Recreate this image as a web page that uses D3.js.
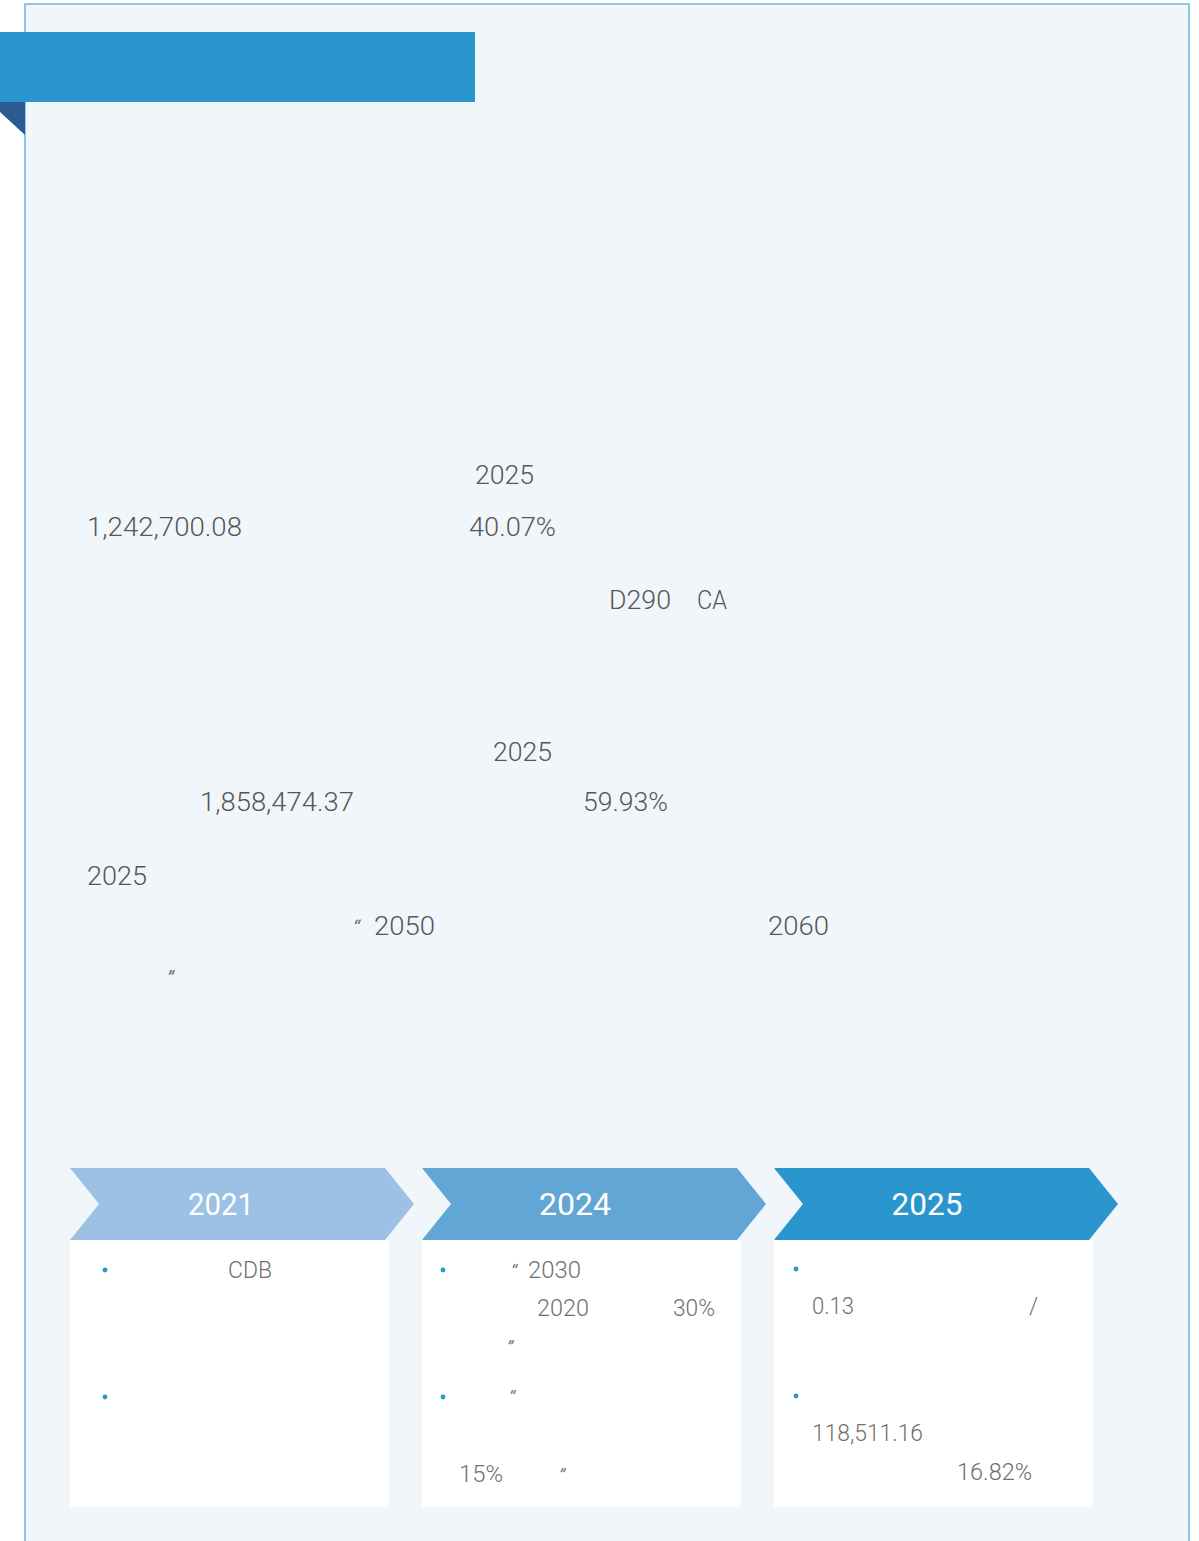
<!DOCTYPE html>
<html>
<head>
<meta charset="utf-8">
<script src="https://cdn.jsdelivr.net/npm/d3@7"></script>
<style>
  html, body { margin: 0; padding: 0; background: #ffffff; }
  svg { display: block; }
</style>
</head>
<body>
<div id="chart"></div>
<script>
// ---------- data ----------
const years = ["2021", "2024", "2025"];
const stageColors = ["#9CC1E4", "#61A6D4", "#2A96CD"];

// body text fragments (only the Latin / numeric parts that are visible)
const bodyTexts = ["2025", "1,242,700.08", "40.07%", "D290", "CA", "2025",
                   "1,858,474.37", "59.93%", "2025", "\u201C", "2050", "2060", "\u201D"];

// card text fragments, per stage
const cardTexts = [
  ["CDB"],
  ["\u201C", "2030", "2020", "30%", "\u201D", "\u201C", "15%", "\u201D"],
  ["0.13", "/", "118,511.16", "16.82%"]
];

// ---------- layout (positions kept separate from data) ----------
const W = 1199, H = 1541;
const bodyLayout = [
  [475, 484, 59], [87, 536, 155], [469, 536, 87], [609, 609, 62], [697, 609, 30],
  [493, 761, 59], [200, 811, 154], [583, 811, 85], [87, 885, 60],
  [353, 935, 0], [374, 935, 61], [768, 935, 61], [167, 985, 0]
];
// offsets relative to each card's left edge
const cardLayout = [
  [[158, 1278, 44]],
  [[89, 1278, 0], [106, 1278, 53], [115, 1316, 52], [251, 1316, 42],
   [85, 1354, 0], [87, 1404, 0], [37, 1482, 44], [137, 1482, 0]],
  [[38, 1314, 42], [255, 1314, 0], [38, 1441, 111], [183, 1480, 75]]
];
const bulletLayout = [[[35, 1270], [35, 1397]], [[21, 1270], [21, 1397]], [[22, 1269], [22, 1396]]];

const svg = d3.select("#chart").append("svg")
  .attr("width", W).attr("height", H);

// background panel with border
svg.append("rect").attr("x", 25).attr("y", 4).attr("width", 1164).attr("height", H + 20)
  .attr("fill", "#F1F6FB").attr("stroke", "#6DB6E0").attr("stroke-width", 1.5);

// header ribbon
svg.append("rect").attr("x", 0).attr("y", 32).attr("width", 475).attr("height", 70)
  .attr("fill", "#2A96CD");
svg.append("path").attr("d", "M0,102 L25,102 L25,135 L0,112 Z").attr("fill", "#2E5A93");

// body text
const isQuote = t => t === "\u201C" || t === "\u201D";
svg.append("g").selectAll("text").data(bodyTexts).join("text")
  .attr("x", (d, i) => bodyLayout[i][0])
  .attr("y", (d, i) => bodyLayout[i][1])
  .attr("font-family", "Roboto, 'Noto Sans', sans-serif")
  .attr("font-weight", d => isQuote(d) ? 400 : 300)
  .attr("font-style", d => isQuote(d) ? "italic" : "normal")
  .attr("font-size", d => isQuote(d) ? 20 : 26)
  .attr("fill", d => isQuote(d) ? "#777777" : "#555658")
  .each(function (d, i) {
    const w = bodyLayout[i][2];
    if (w > 0) d3.select(this).attr("textLength", w).attr("lengthAdjust", "spacingAndGlyphs");
  })
  .text(d => d);

// timeline scale
const x = d3.scaleLinear().domain([0, years.length - 1]).range([70, 774]);
const chevW = 344, chevTip = 29, chevTop = 1168, chevBot = 1240, cardW = 319, cardBot = 1507;
const mid = (chevTop + chevBot) / 2;

const stage = svg.append("g").selectAll("g").data(years).join("g")
  .attr("transform", (d, i) => `translate(${x(i)},0)`);

stage.append("rect")
  .attr("x", 0).attr("y", chevBot).attr("width", cardW).attr("height", cardBot - chevBot)
  .attr("fill", "#ffffff");

stage.append("path")
  .attr("d", `M0,${chevTop} L${chevW - chevTip},${chevTop} L${chevW},${mid} L${chevW - chevTip},${chevBot} L0,${chevBot} L${chevTip},${mid} Z`)
  .attr("fill", (d, i) => stageColors[i]);

stage.append("text")
  .attr("x", (d, i) => [151, 153, 153][i])
  .attr("y", 1215)
  .attr("text-anchor", "middle")
  .attr("font-family", "Roboto, 'Noto Sans', sans-serif")
  .attr("font-size", 31)
  .attr("fill", "#ffffff")
  .attr("textLength", (d, i) => [66, 72, 71][i])
  .attr("lengthAdjust", "spacingAndGlyphs")
  .text(d => d);

stage.each(function (d, i) {
  const g = d3.select(this);
  g.selectAll("circle").data(bulletLayout[i]).join("circle")
    .attr("cx", b => b[0]).attr("cy", b => b[1]).attr("r", 2.4)
    .attr("fill", "#2A96CD");
  g.selectAll("text.card").data(cardTexts[i]).join("text")
    .attr("class", "card")
    .attr("x", (t, j) => cardLayout[i][j][0])
    .attr("y", (t, j) => cardLayout[i][j][1])
    .attr("font-family", "Roboto, 'Noto Sans', sans-serif")
    .attr("font-weight", t => isQuote(t) ? 400 : 300)
    .attr("font-style", t => isQuote(t) ? "italic" : "normal")
    .attr("font-size", t => isQuote(t) ? 18 : 23)
    .attr("fill", t => isQuote(t) ? "#808080" : "#707070")
    .each(function (t, j) {
      const w = cardLayout[i][j][2];
      if (w > 0) d3.select(this).attr("textLength", w).attr("lengthAdjust", "spacingAndGlyphs");
    })
    .text(t => t);
});
</script>
</body>
</html>
